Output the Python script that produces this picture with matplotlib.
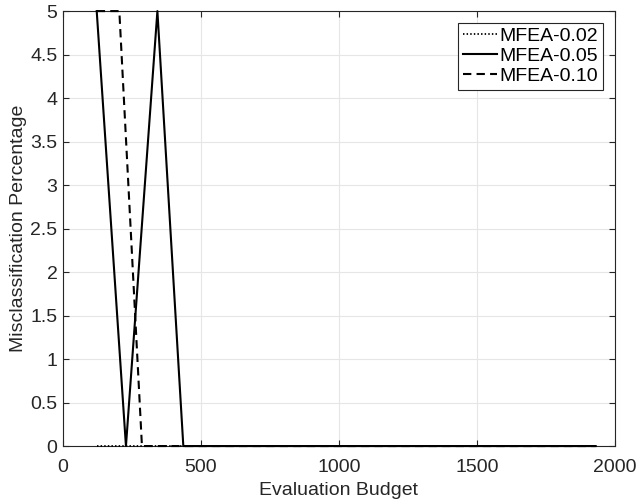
import matplotlib
matplotlib.use("Agg")
import matplotlib.pyplot as plt

plt.rcParams['font.family'] = ['Liberation Sans', 'DejaVu Sans']

# evaluation budget vs misclassification percentage for three MFEA settings
x_002 = [123, 230, 340, 437, 540, 640, 740, 840, 940, 1040, 1140, 1240,
         1340, 1440, 1540, 1640, 1740, 1840, 1931]
y_002 = [0] * len(x_002)

x_005 = [122, 228, 342, 436, 540, 640, 740, 840, 940, 1040, 1140, 1240,
         1340, 1440, 1540, 1640, 1740, 1840, 1931]
y_005 = [5, 0, 5, 0, 0, 0, 0, 0, 0, 0, 0, 0, 0, 0, 0, 0, 0, 0, 0]

x_010 = [122, 204, 286, 390, 500, 640, 740, 840, 940, 1040, 1140, 1240,
         1340, 1440, 1540, 1640, 1740, 1840, 1931]
y_010 = [5, 5, 0, 0, 0, 0, 0, 0, 0, 0, 0, 0, 0, 0, 0, 0, 0, 0, 0]

fs = 14
fig = plt.figure(figsize=(6.37, 5.04), dpi=100)
ax = fig.add_axes([0.099, 0.115, 0.866, 0.863])

ax.plot(x_002, y_002, color='k', linestyle=(0, (0.8, 1.2)), linewidth=1.3,
        label='MFEA-0.02', zorder=3, clip_on=False)
ax.plot(x_005, y_005, color='k', linestyle='-', linewidth=1.5,
        label='MFEA-0.05', zorder=3, clip_on=False)
ax.plot(x_010, y_010, color='k', linestyle=(0, (4, 2.5)), linewidth=1.5,
        label='MFEA-0.10', zorder=3, clip_on=False)

ax.set_xlim(0, 2000)
ax.set_ylim(0, 5)
ax.set_xticks([0, 500, 1000, 1500, 2000])
ax.set_yticks([0, 0.5, 1, 1.5, 2, 2.5, 3, 3.5, 4, 4.5, 5])
ax.set_yticklabels(['0', '0.5', '1', '1.5', '2', '2.5', '3', '3.5', '4', '4.5', '5'])
ax.grid(True, color='#e6e6e6', linewidth=0.8)
ax.set_axisbelow(True)
ax.tick_params(direction='in', length=4, labelsize=fs, colors='#262626',
               top=True, right=True)
ax.tick_params(axis='x', pad=9)
ax.tick_params(axis='y', pad=4)
for s in ax.spines.values():
    s.set_color('#262626')
    s.set_linewidth(0.8)

ax.set_xlabel('Evaluation Budget', fontsize=fs, color='#262626', labelpad=5)
ax.set_ylabel('Misclassification Percentage', fontsize=fs, color='#262626', labelpad=2)

leg = ax.legend(loc='upper right', fontsize=fs, frameon=True, fancybox=False,
                edgecolor='#262626', framealpha=1, borderpad=0.25,
                labelspacing=0.12, handlelength=1.75, handletextpad=0.15,
                borderaxespad=0.6)
leg.get_frame().set_linewidth(0.8)

fig.savefig('out.png', dpi=100)
